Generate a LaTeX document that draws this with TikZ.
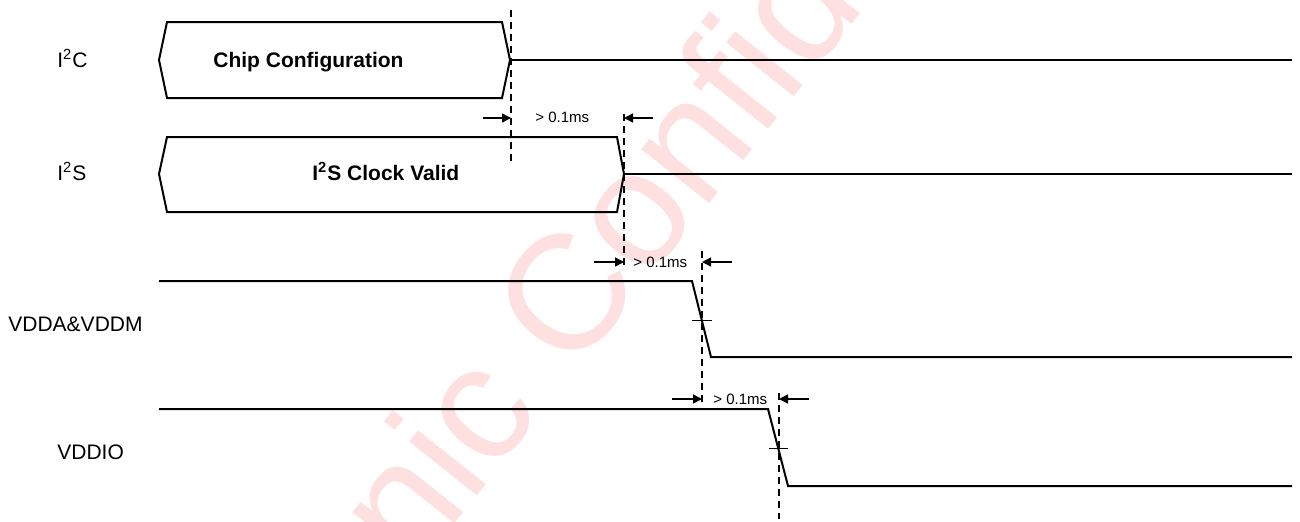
\documentclass[tikz,border=0pt]{standalone}
\usepackage{fontspec}
\setmainfont{Liberation Sans}
\usetikzlibrary{arrows.meta}

\begin{document}
\begin{tikzpicture}[
    x=0.5pt, y=-0.5pt,
    sig/.style={line width=1pt, line join=miter},
    bus/.style={line width=1pt},
    guide/.style={line width=0.7pt, dash pattern=on 3.5pt off 2.5pt},
    tickmark/.style={line width=0.5pt},
    dim/.style={-{Triangle[length=4.5pt, width=4.5pt]}, line width=0.75pt},
    lbl/.style={font=\fontsize{10.5}{12}\selectfont, inner sep=0pt, anchor=base west},
    buslbl/.style={font=\fontsize{10.5}{12}\selectfont\bfseries, inner sep=0pt, anchor=base west},
    gap/.style={font=\fontsize{7.5}{9}\selectfont, inner sep=0pt, anchor=base west},
    wmark/.style={text=red!12, font=\fontsize{82}{82}\selectfont, rotate=51.5, anchor=base west, inner sep=0pt},
]

\useasboundingbox (0,0) rectangle (1300,521);
\clip (0,0) rectangle (1300,521);

% === Watermark ===
\node[wmark] (wm) at (413,576) {nic Confidential};

% === Signal names ===
\node[lbl] (i2c_lbl) at (57,67) {I\textsuperscript{2}C};
\node[lbl] (i2s_lbl) at (57,180) {I\textsuperscript{2}S};
\node[lbl] (vdda_lbl) at (8,331) {VDDA\&VDDM};
\node[lbl] (vddio_lbl) at (57,459) {VDDIO};

% === Timing references ===
\coordinate (t1) at (511,118);
\coordinate (t2) at (624,118);
\coordinate (t3) at (702,262);
\coordinate (t4) at (779,399);

% === I2C bus ===
\draw[bus] (167,22) -- (502,22) -- (510,60) -- (502,98) -- (167,98) -- (159,60) -- cycle;
\node[buslbl] (cfg) at (213,67) {Chip Configuration};
\draw[sig] (510,60) -- (1292,60);

% === I2S bus ===
\draw[bus] (167,137) -- (617,137) -- (624,174) -- (617,212) -- (167,212) -- (159,174) -- cycle;
\node[buslbl] (clk) at (312,180) {I\textsuperscript{2}S Clock Valid};
\draw[sig] (624,174) -- (1292,174);

% === VDDA&VDDM ===
\draw[sig] (159,281) -- (692,281) -- (711,357) -- (1292,357);
\draw[tickmark] (692,320) -- (712,320);

% === VDDIO ===
\draw[sig] (159,409) -- (768,409) -- (788,486) -- (1292,486);
\draw[tickmark] (769,448) -- (788,448);

% === Dashed guides ===
\draw[guide] (511,10) -- (511,163);
\draw[guide] (624,114) -- (624,268);
\draw[guide] (702,251) -- (702,404);
\draw[guide] (779,393) -- (779,519);

% === Delay markers ===
\draw[dim] (t1) ++(-28,0) -- (t1);
\draw[dim] (t2) ++(29,0) -- (t2);
\node[gap] (d1) at (535,122) {> 0.1ms};

\draw[dim] (t2 |- t3) ++(-30,0) -- (t2 |- t3);
\draw[dim] (t3) ++(30,0) -- (t3);
\node[gap] (d2) at (633,267) {> 0.1ms};

\draw[dim] (t3 |- t4) ++(-30,0) -- (t3 |- t4);
\draw[dim] (t4) ++(30,0) -- (t4);
\node[gap] (d3) at (713,404) {> 0.1ms};

\end{tikzpicture}
\end{document}
